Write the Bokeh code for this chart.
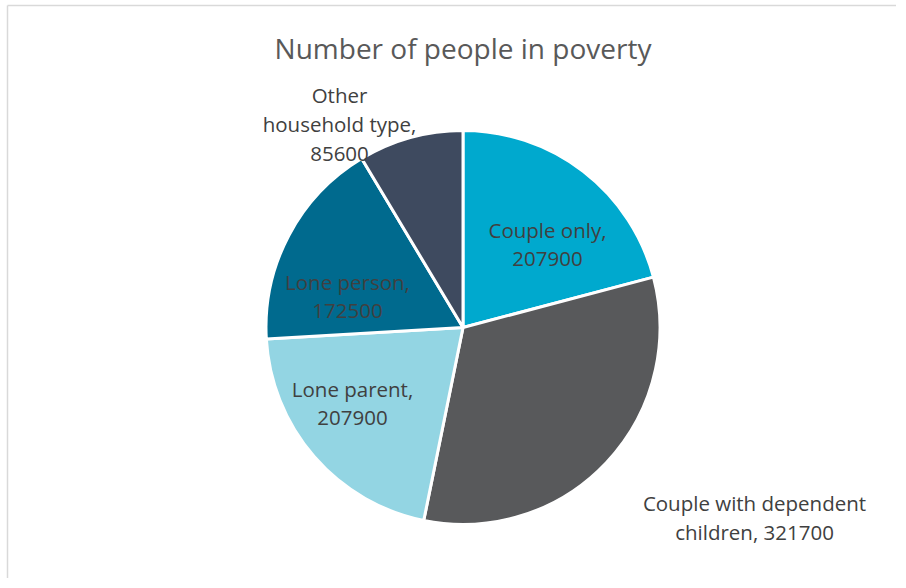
import numpy as np
from bokeh.plotting import figure
from bokeh.models import Range1d
from bokeh.core.properties import value
from bokeh.embed import file_html
from bokeh.resources import INLINE

# ---- data ----
categories = ["Couple only", "Couple with dependent children", "Lone parent",
              "Lone person", "Other household type"]
counts = [207900, 321700, 207900, 172500, 85600]
colors = ["#00A9CE", "#58595B", "#93D5E3", "#006A8E", "#3E4A5F"]
# where each label breaks into lines (word index after which to break)
breaks = [[2], [3], [2], [2], [1, 3]]

TITLE = "Number of people in poverty"

# ---- layout (screen pixel coordinates) ----
W, H = 896, 578
X0, Y0 = 0, 0
cx, cy, R = 462.5, 327.0, 197.0
label_pos = [(547, 229), (754, 502), (352, 388), (347, 281), (339, 94)]
LINE_H = 29.5
FONT = "Open Sans"

p = figure(width=W, height=H, output_backend="svg", toolbar_location=None,
           x_range=Range1d(X0, X0 + W), y_range=Range1d(-(Y0 + H), -Y0),
           min_border=0, outline_line_color=None)
p.axis.visible = False
p.grid.visible = False
p.background_fill_color = "white"
p.border_fill_color = "white"

# frame lines (left and top)
p.line([7, 7], [-(Y0 + H), -5], line_color="#D9D9D9", line_width=1.5)
p.line([7, X0 + W], [-5, -5], line_color="#D9D9D9", line_width=1.5)

total = float(sum(counts))
frac = np.array(counts) / total
cum = np.concatenate([[0], np.cumsum(frac)])
start = np.pi / 2 - 2 * np.pi * cum[:-1]
end = np.pi / 2 - 2 * np.pi * cum[1:]

p.wedge(x=[cx] * len(counts), y=[-cy] * len(counts), radius=R,
        start_angle=list(start), end_angle=list(end), direction="clock",
        fill_color=colors, line_color="white", line_width=3)

# title
p.text(x=[cx], y=[-47], text=[TITLE], text_align="center", text_baseline="middle",
       text_font=value(FONT), text_font_size="28px", text_color="#595959")

# labels
for cat, val, br, (lx, ly) in zip(categories, counts, breaks, label_pos):
    words = (cat + ",").split(" ") + [str(val)]
    lines = []
    prev = 0
    for b in br + [len(words)]:
        lines.append(" ".join(words[prev:b]))
        prev = b
    ys = [-(ly + i * LINE_H) for i in range(len(lines))]
    p.text(x=[lx] * len(lines), y=ys, text=lines, text_align="center",
           text_baseline="middle", text_font=value(FONT), text_font_size="20.5px",
           text_color="#404040")

open("out.html", "w").write(file_html(p, INLINE))
